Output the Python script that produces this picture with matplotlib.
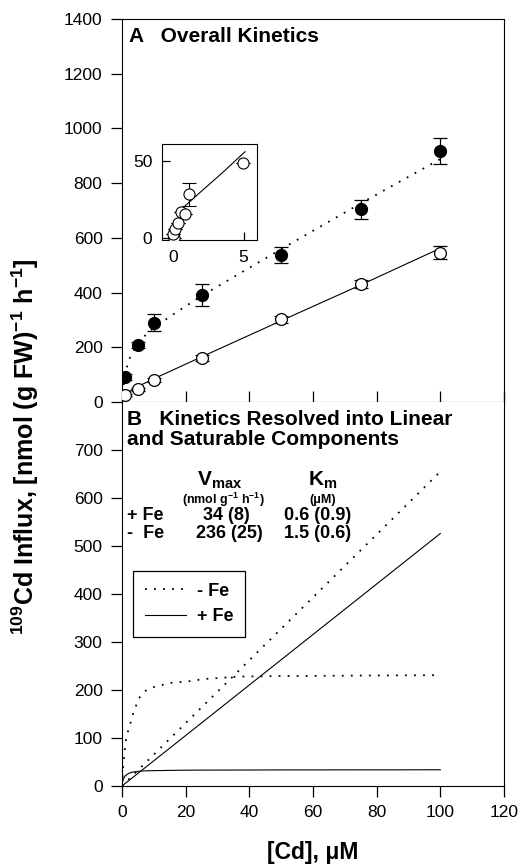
import matplotlib
matplotlib.use("Agg")
import matplotlib.pyplot as plt

plt.rcParams['font.family'] = ['Liberation Sans', 'DejaVu Sans']
plt.rcParams['mathtext.fontset'] = 'custom'
plt.rcParams['mathtext.rm'] = 'Liberation Sans:bold'
plt.rcParams['mathtext.bf'] = 'Liberation Sans:bold'
plt.rcParams['mathtext.it'] = 'Liberation Sans:bold'

# ---------------- data ----------------
# Panel A: measured influx
cd_conc = [1, 5, 10, 25, 50, 75, 100]
influx_minus_fe = [92, 208, 290, 390, 537, 705, 917]
err_minus_fe = [10, 12, 30, 40, 29, 35, 47]
influx_plus_fe = [25, 46, 80, 160, 302, 431, 546]
err_plus_fe = [4, 6, 8, 10, 12, 14, 25]

# Panel A: fitted curves
fit_minus_x = [0.5, 1, 2, 3, 5, 7.5, 10, 15, 25, 50, 75, 100]
fit_minus_y = [62, 101, 148, 177, 214, 246, 271, 312, 388, 559, 726, 888]
fit_plus_x = [0, 0.1, 0.2, 0.5, 1, 2, 3, 5, 10, 25, 50, 75, 100]
fit_plus_y = [0, 5.4, 9.6, 18, 26.5, 36.7, 44, 56.7, 85, 165, 297, 428, 562]

# Inset: low-concentration +Fe data
inset_x = [0.05, 0.0, 0.12, 0.31, 0.55, 0.83, 1.14, 4.97]
inset_y = [0, 2.8, 5.8, 9.7, 16.8, 15.7, 28.6, 48.5]
inset_err = [0, 0, 0, 0, 0, 0, 7.5, 0]
inset_fit_x = [0, 0.15, 0.3, 0.55, 0.83, 1.2, 2, 3.44, 5.1]
inset_fit_y = [2, 6.5, 10, 16, 21, 24, 30.5, 42, 56]

# Panel B: resolved components
sat_minus_x = [0, 0.3, 0.85, 1.25, 2, 2.7, 3.35, 4.3, 5.3, 7.7, 10.4, 15.6, 20.8, 26, 37, 50, 75, 100]
sat_minus_y = [0, 35, 75, 96, 117, 132, 148, 165, 183, 200, 207, 215, 218, 223, 228, 229, 230, 231]
lin_minus_x = [0, 100]
lin_minus_y = [0, 655]
sat_plus_x = [0, 0.1, 0.3, 0.6, 1, 2, 3, 5, 7, 10, 20, 50, 100]
sat_plus_y = [0, 6, 12, 17, 21, 26, 28.5, 30.5, 31.5, 32, 33, 33.5, 33.8]
lin_plus_x = [0, 100]
lin_plus_y = [0, 526]

yticks_a = [0, 200, 400, 600, 800, 1000, 1200, 1400]
yticks_b = [0, 100, 200, 300, 400, 500, 600, 700]
xticks = [0, 20, 40, 60, 80, 100, 120]

# ---------------- figure ----------------
W, H = 526, 866
fig = plt.figure(figsize=(W / 100, H / 100), dpi=100)

def box(x0, y0, x1, y1):
    return [x0 / W, 1 - y1 / H, (x1 - x0) / W, (y1 - y0) / H]

def fy(yp):
    return 1 - yp / H

def fx(xp):
    return xp / W

axA = fig.add_axes(box(122, 19, 504, 402))
axB = fig.add_axes(box(122, 402, 504, 786))

DOT = (0, (1, 4))
tick_fs = 12.5

# Panel A
axA.plot(fit_minus_x, fit_minus_y, color='black', lw=1.3, linestyle=DOT, zorder=2)
axA.plot(fit_plus_x, fit_plus_y, color='black', lw=0.8, zorder=2)
axA.errorbar(cd_conc, influx_minus_fe, yerr=err_minus_fe, fmt='o', color='black',
             mfc='black', mec='black', ms=8.5, ecolor='black', elinewidth=0.9,
             capsize=5, capthick=0.9, zorder=3)
axA.errorbar(cd_conc, influx_plus_fe, yerr=err_plus_fe, fmt='o', color='black',
             mfc='white', mec='black', ms=8.5, mew=0.9, ecolor='black', elinewidth=0.9,
             capsize=5, capthick=0.9, zorder=3)
axA.set_xlim(0, 120)
axA.set_ylim(0, 1400)
axA.set_yticks(yticks_a)
axA.set_xticks(xticks)
axA.tick_params(axis='x', direction='in', length=8, labelbottom=False, width=0.9)
axA.tick_params(axis='y', direction='out', length=8, labelsize=tick_fs, width=0.9, pad=6)
fig.text(fx(129), fy(27), 'A   Overall Kinetics',
         fontsize=15, fontweight='bold', va='top', ha='left')

# Inset
axI = fig.add_axes(box(162, 144, 257, 240))
axI.plot(inset_fit_x, inset_fit_y, color='black', lw=0.8, zorder=2)
axI.errorbar(inset_x, inset_y, yerr=inset_err, fmt='o', color='black', mfc='white',
             mec='black', ms=8, mew=0.8, ecolor='black', elinewidth=0.8,
             capsize=5, capthick=0.8, zorder=3)
axI.set_xlim(-0.8, 5.95)
axI.set_ylim(-1, 61)
axI.set_xticks([0, 5])
axI.set_yticks([0, 50])
axI.tick_params(direction='in', length=6, labelsize=tick_fs, width=0.9, pad=7)

# Panel B
l_minus, = axB.plot(sat_minus_x, sat_minus_y, color='black', lw=1.3, linestyle=DOT)
axB.plot(lin_minus_x, lin_minus_y, color='black', lw=1.3, linestyle=DOT)
l_plus, = axB.plot(sat_plus_x, sat_plus_y, color='black', lw=0.8)
axB.plot(lin_plus_x, lin_plus_y, color='black', lw=0.8)
axB.set_xlim(0, 120)
axB.set_ylim(0, 800)
axB.set_yticks(yticks_b)
axB.set_xticks(xticks)
axB.tick_params(axis='y', direction='out', length=8, labelsize=tick_fs, width=0.9, pad=6)
axB.tick_params(axis='x', direction='out', length=8, labelsize=tick_fs, width=0.9, pad=6)
axB.spines['top'].set_visible(False)

fig.text(fx(127), fy(410), 'B   Kinetics Resolved into Linear\nand Saturable Components',
         fontsize=15, fontweight='bold', va='top', ha='left', linespacing=1.05)

fig.text(fx(220), fy(480), r'V$_{\mathrm{max}}$', fontsize=15, fontweight='bold', ha='center', va='center')
fig.text(fx(323), fy(480), r'K$_{\mathrm{m}}$', fontsize=15, fontweight='bold', ha='center', va='center')
fig.text(fx(223), fy(500), r'(nmol g$^{\mathrm{-1}}$ h$^{\mathrm{-1}}$)', fontsize=9, fontweight='bold', ha='center', va='center')
fig.text(fx(323), fy(500), '(μM)', fontsize=9, fontweight='bold', ha='center', va='center')
fig.text(fx(127), fy(516), '+ Fe', fontsize=13, fontweight='bold', ha='left', va='center')
fig.text(fx(226), fy(516), '34 (8)', fontsize=13, fontweight='bold', ha='center', va='center')
fig.text(fx(318), fy(516), '0.6 (0.9)', fontsize=13, fontweight='bold', ha='center', va='center')
fig.text(fx(127), fy(534), '-  Fe', fontsize=13, fontweight='bold', ha='left', va='center')
fig.text(fx(229), fy(534), '236 (25)', fontsize=13, fontweight='bold', ha='center', va='center')
fig.text(fx(318), fy(534), '1.5 (0.6)', fontsize=13, fontweight='bold', ha='center', va='center')

leg = axB.legend([l_minus, l_plus], ['- Fe', '+ Fe'], loc='upper left',
                 bbox_to_anchor=((133 - 122) / 382, (786 - 571) / 384),
                 frameon=True, fancybox=False, edgecolor='black', framealpha=1,
                 prop={'weight': 'bold', 'size': 13}, handlelength=2.3,
                 borderpad=0.65, labelspacing=0.45, handletextpad=0.6, borderaxespad=0)
leg.get_frame().set_linewidth(0.9)

fig.text(fx(25), fy(447), r'$^{\mathrm{109}}$Cd Influx, [nmol (g FW)$^{\mathrm{-1}}$ h$^{\mathrm{-1}}$]',
         rotation=90, fontsize=18, fontweight='bold', ha='center', va='center')
fig.text(fx(313), fy(853), '[Cd], μM', fontsize=16.5, fontweight='bold', ha='center', va='center')

fig.savefig('out.png', dpi=100)
